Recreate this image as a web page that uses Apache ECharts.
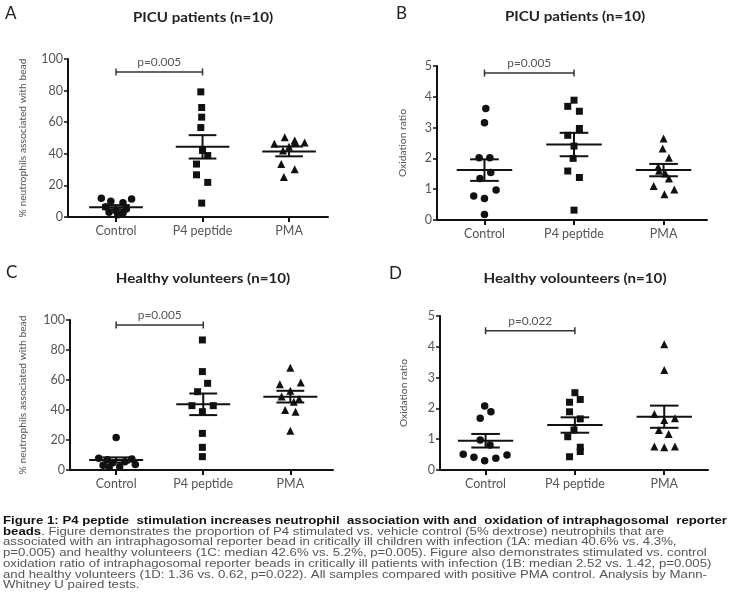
<!DOCTYPE html>
<html>
<head>
<meta charset="utf-8">
<script src="https://cdn.jsdelivr.net/npm/echarts@6/dist/echarts.min.js"></script>
<style>
html,body{margin:0;padding:0;background:#fff;}
#chart{width:735px;height:614px;}
</style>
</head>
<body>
<div id="chart"></div>
<script>
// ---------- data ----------
const categories = ['Control', 'P4 peptide', 'PMA'];

// Panel A: PICU patients, % neutrophils associated with bead
const aControl = [11.8, 11.4, 10.0, 9.0, 6.5, 5.0, 4.0, 3.0, 2.4, 1.5];
const aControlDx = [-0.17, 0.18, -0.06, 0.08, -0.12, 0.12, 0.0, -0.08, 0.08, 0.02];
const aP4 = [79.2, 69.3, 63.2, 56.6, 42.1, 38.9, 33.5, 26.7, 21.9, 8.8];
const aP4Dx = [-0.02, -0.01, -0.01, -0.02, 0.0, 0.06, -0.07, -0.07, 0.06, -0.01];
const aPMA = [50.5, 48.4, 47.2, 46.3, 44.5, 42.1, 33.5, 30.3, 25.3, 47.5];
const aPMADx = [-0.05, 0.065, 0.18, -0.17, 0.0, -0.07, -0.09, 0.065, -0.06, 0.07];
const aMean = [6.2, 44.4, 41.5];
const aSem = [1.3, 7.4, 3.1];
const aBracket = [91.8];
const aP = ['p=0.005'];

// Panel B: PICU patients, oxidation ratio
const bControl = [3.62, 3.16, 2.02, 2.02, 1.54, 1.35, 0.97, 0.78, 0.70, 0.18];
const bControlDx = [0.015, 0.0, -0.06, 0.06, 0.07, -0.05, 0.13, -0.12, 0.0, 0.0];
const bP4 = [3.89, 3.69, 3.53, 2.97, 2.75, 2.40, 2.00, 1.59, 1.38, 0.32];
const bP4Dx = [0.0, -0.07, 0.06, 0.06, -0.07, 0.0, -0.01, -0.07, 0.06, 0.0];
const bPMA = [2.65, 2.32, 2.02, 1.73, 1.60, 1.51, 1.35, 1.10, 0.99, 0.84];
const bPMADx = [0.0, -0.01, 0.06, -0.06, -0.05, 0.02, 0.06, -0.11, 0.12, 0.01];
const bMean = [1.62, 2.45, 1.62];
const bSem = [0.35, 0.38, 0.2];
const bBracket = [4.77];
const bP = ['p=0.005'];

// Panel C: Healthy volunteers, % neutrophils associated with bead
const cControl = [21.6, 7.8, 7.3, 6.8, 5.5, 4.9, 3.6, 3.2, 2.2, 1.8];
const cControlDx = [0.0, -0.2, 0.18, -0.1, 0.1, -0.04, 0.22, -0.15, 0.04, -0.08];
const cP4 = [86.7, 65.6, 57.8, 52.2, 42.9, 42.9, 38.9, 24.4, 15.1, 8.9];
const cP4Dx = [-0.01, -0.01, 0.05, -0.065, -0.13, 0.115, -0.01, -0.01, -0.01, -0.01];
const cPMA = [68.2, 58.4, 57.1, 52.9, 49.0, 47.5, 45.5, 40.0, 38.9, 26.2];
const cPMADx = [0.0, 0.12, -0.12, 0.0, -0.1, 0.1, 0.04, -0.06, 0.06, 0.0];
const cMean = [6.7, 43.8, 48.9];
const cSem = [1.7, 7.2, 3.9];
const cBracket = [96.7];
const cP = ['p=0.005'];

// Panel D: Healthy volounteers, oxidation ratio
const dControl = [2.08, 1.89, 1.68, 0.97, 0.81, 0.51, 0.41, 0.30, 0.38, 0.49];
const dControlDx = [-0.01, 0.06, -0.06, -0.06, 0.05, -0.25, -0.13, -0.01, 0.115, 0.24];
const dP4 = [2.51, 2.29, 2.20, 1.89, 1.66, 1.30, 1.08, 0.74, 0.60, 0.43];
const dP4Dx = [0.0, 0.06, -0.06, -0.06, 0.06, -0.01, -0.08, 0.06, 0.06, -0.06];
const dPMA = [4.08, 3.25, 1.82, 1.62, 1.68, 1.30, 1.17, 0.76, 0.74, 0.76];
const dPMADx = [0.0, 0.0, -0.11, 0.0, 0.12, -0.06, 0.05, -0.11, 0.0, 0.12];
const dMean = [0.95, 1.46, 1.73];
const dSem = [0.22, 0.25, 0.36];
const dBracket = [4.52];
const dP = ['p=0.022'];

const panelTitles = ['PICU patients (n=10)', 'PICU patients (n=10)', 'Healthy volunteers (n=10)', 'Healthy volounteers (n=10)'];
const panelLetters = ['A', 'B', 'C', 'D'];
const yNames = ['% neutrophils associated with bead', 'Oxidation ratio', '% neutrophils associated with bead', 'Oxidation ratio'];

const captionLines = [
  '{b|Figure 1: P4 peptide  stimulation increases neutrophil  association with and  oxidation of intraphagosomal  reporter}',
  '{b|beads}. Figure demonstrates the proportion of P4 stimulated vs. vehicle control (5% dextrose) neutrophils that are',
  'associated with an intraphagosomal reporter bead in critically ill children with infection (1A: median 40.6% vs. 4.3%,',
  'p=0.005) and healthy volunteers (1C: median 42.6% vs. 5.2%, p=0.005). Figure also demonstrates stimulated vs. control',
  'oxidation ratio of intraphagosomal reporter beads in critically ill patients with infection (1B: median 2.52 vs. 1.42, p=0.005)',
  'and healthy volunteers (1D: 1.36 vs. 0.62, p=0.022). All samples compared with positive PMA control. Analysis by Mann-',
  'Whitney U paired tests.'
];

// ---------- layout / style ----------
const INK = '#111';
const GRAY = '#555';
const FONT = 'Lato, "Open Sans", sans-serif';
const CAPFONT = '"Liberation Sans", Arial, sans-serif';
const MEAN_HW = 0.31, CAP_HW = 0.16;

const layouts = [
  {grid: {left: 68, top: 59, width: 260, height: 158}, xr: [-0.555, 2.45], ymax: 100, yint: 20, nameGap: 40,
   title: [203, 18], letter: [5, 14]},
  {grid: {left: 437, top: 66, width: 270, height: 154}, xr: [-0.53, 2.485], ymax: 5, yint: 1, nameGap: 29,
   title: [575, 17], letter: [396, 14]},
  {grid: {left: 70, top: 320, width: 263, height: 150}, xr: [-0.53, 2.49], ymax: 100, yint: 20, nameGap: 42,
   title: [203, 279], letter: [6, 273]},
  {grid: {left: 440, top: 316, width: 268, height: 154}, xr: [-0.51, 2.49], ymax: 5, yint: 1, nameGap: 31,
   title: [575, 279], letter: [389, 274]}
];

const panels = [
  {groups: [[aControl, aControlDx], [aP4, aP4Dx], [aPMA, aPMADx]], mean: aMean, sem: aSem, bracket: aBracket, p: aP},
  {groups: [[bControl, bControlDx], [bP4, bP4Dx], [bPMA, bPMADx]], mean: bMean, sem: bSem, bracket: bBracket, p: bP},
  {groups: [[cControl, cControlDx], [cP4, cP4Dx], [cPMA, cPMADx]], mean: cMean, sem: cSem, bracket: cBracket, p: cP},
  {groups: [[dControl, dControlDx], [dP4, dP4Dx], [dPMA, dPMADx]], mean: dMean, sem: dSem, bracket: dBracket, p: dP}
];

const symbols = ['circle', 'rect', 'triangle'];
const symbolSizes = [7.5, 7, 8];

const grids = [], xAxes = [], yAxes = [], series = [], graphics = [];

function lineEl(api, x1, y1, x2, y2, w) {
  const a = api.coord([x1, y1]), b = api.coord([x2, y2]);
  return {type: 'line', shape: {x1: a[0], y1: a[1], x2: b[0], y2: b[1]}, style: {stroke: INK, lineWidth: w || 2}};
}

panels.forEach((pn, i) => {
  const L = layouts[i];
  grids.push(Object.assign({containLabel: false}, L.grid));
  xAxes.push({
    type: 'value', gridIndex: i, min: L.xr[0], max: L.xr[1],
    splitLine: {show: false},
    axisLine: {show: true, onZero: false, lineStyle: {color: INK, width: 2}},
    axisTick: {show: true, customValues: [0, 1, 2], length: 5, lineStyle: {color: INK, width: 2}},
    axisLabel: {show: true, customValues: [0, 1, 2], formatter: v => categories[Math.round(v)] || '',
      color: GRAY, fontSize: 12.5, fontFamily: FONT, margin: 7}
  });
  yAxes.push({
    type: 'value', gridIndex: i, min: 0, max: L.ymax, interval: L.yint,
    name: yNames[i], nameLocation: 'middle', nameGap: L.nameGap, nameRotate: 90,
    nameTextStyle: {color: GRAY, fontSize: 10.3, fontFamily: FONT},
    splitLine: {show: false},
    axisLine: {show: true, onZero: false, lineStyle: {color: INK, width: 2}},
    axisTick: {show: true, length: 4, lineStyle: {color: INK, width: 1.5}},
    axisLabel: {color: GRAY, fontSize: 12.5, fontFamily: FONT, margin: 5}
  });
  pn.groups.forEach((g, k) => {
    series.push({
      type: 'scatter', xAxisIndex: i, yAxisIndex: i,
      symbol: symbols[k], symbolSize: symbolSizes[k],
      itemStyle: {color: INK, opacity: 1},
      data: g[0].map((v, j) => [k + g[1][j], v]),
      z: 3
    });
  });
  series.push({
    type: 'custom', xAxisIndex: i, yAxisIndex: i, z: 4,
    encode: {x: 0, y: 1},
    data: pn.mean.map((m, k) => [k, m, pn.sem[k]]),
    renderItem: (params, api) => {
      const x = api.value(0), m = api.value(1), s = api.value(2);
      return {type: 'group', children: [
        lineEl(api, x - MEAN_HW, m, x + MEAN_HW, m),
        lineEl(api, x - CAP_HW, m + s, x + CAP_HW, m + s),
        lineEl(api, x - CAP_HW, m - s, x + CAP_HW, m - s),
        lineEl(api, x, m - s, x, m + s)
      ]};
    }
  });
  series.push({
    type: 'custom', xAxisIndex: i, yAxisIndex: i, z: 4,
    encode: {x: 0, y: 2},
    data: pn.bracket.map(y => [0, 1, y]),
    renderItem: (params, api) => {
      const x0 = api.value(0), x1 = api.value(1), y = api.value(2);
      const a = api.coord([x0, y]), b = api.coord([x1, y]);
      const st = {stroke: '#333', lineWidth: 1.5};
      const cx = (a[0] + b[0]) / 2;
      return {type: 'group', children: [
        {type: 'line', shape: {x1: a[0], y1: a[1], x2: b[0], y2: b[1]}, style: st},
        {type: 'line', shape: {x1: a[0], y1: a[1] - 3.5, x2: a[0], y2: a[1] + 3.5}, style: st},
        {type: 'line', shape: {x1: b[0], y1: b[1] - 3.5, x2: b[0], y2: b[1] + 3.5}, style: st},
        {type: 'text', x: cx, y: a[1] - 4, scaleX: 1.08, style: {text: pn.p[params.dataIndex], x: 0, y: 0,
          align: 'center', verticalAlign: 'bottom', fill: GRAY, font: '11px ' + FONT}}
      ]};
    }
  });
  graphics.push({type: 'text', x: L.title[0], y: L.title[1], scaleX: 1.12, style: {
    text: panelTitles[i], align: 'center', verticalAlign: 'middle', fill: '#222', font: 'bold 13.5px ' + FONT}});
  graphics.push({type: 'text', x: L.letter[0], y: L.letter[1], style: {
    text: panelLetters[i], align: 'left', verticalAlign: 'middle', fill: '#222', font: '17px ' + FONT}});
});

const capTop = 521, capStep = 10.7;
captionLines.forEach((t, i) => {
  graphics.push({type: 'text', x: 3, y: capTop + i * capStep, scaleX: 1.2, style: {
    text: t, align: 'left', verticalAlign: 'middle', fill: '#555',
    font: '11px ' + CAPFONT,
    rich: {b: {fontWeight: 'bold', fill: '#111', fontSize: 11, fontFamily: CAPFONT}}
  }});
});

const chart = echarts.init(document.getElementById('chart'), null, {renderer: 'canvas'});
chart.setOption({
  backgroundColor: '#fff',
  animation: false,
  grid: grids, xAxis: xAxes, yAxis: yAxes, series: series, graphic: graphics
});
</script>
</body>
</html>
